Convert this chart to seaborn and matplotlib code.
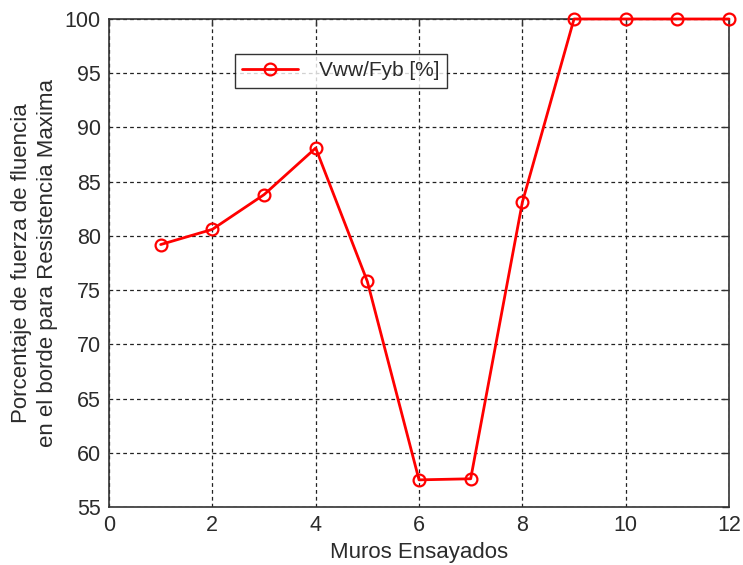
import matplotlib
matplotlib.use("Agg")
import matplotlib.pyplot as plt
import seaborn as sns
import pandas as pd

# Wall test results: share of edge yield force at maximum resistance
muros = [1, 2, 3, 4, 5, 6, 7, 8, 9, 10, 11, 12]
vww_fyb = [79.2, 80.6, 83.8, 88.1, 75.8, 57.5, 57.6, 83.1, 100, 100, 100, 100]
x_ticks = [0, 2, 4, 6, 8, 10, 12]
y_ticks = [55, 60, 65, 70, 75, 80, 85, 90, 95, 100]

sns.set_style("white")
plt.rcParams["font.family"] = ["Liberation Sans", "DejaVu Sans"]
text_color = "#2b2b2b"

df = pd.DataFrame({"muro": muros, "valor": vww_fyb})

fig = plt.figure(figsize=(7.43, 5.65), dpi=100)
ax = fig.add_axes([0.1467, 0.1027, 0.8345, 0.8637])

sns.lineplot(data=df, x="muro", y="valor", ax=ax, color="red", linewidth=2.0,
             marker="o", markersize=8.5, markerfacecolor="none",
             markeredgecolor="red", markeredgewidth=1.6,
             label="Vww/Fyb [%]", clip_on=False, zorder=5)

ax.set_xlim(0, 12)
ax.set_ylim(55, 100)
ax.set_xticks(x_ticks)
ax.set_yticks(y_ticks)
ax.grid(True, color="#222222", linestyle=(0, (3, 2.5)), linewidth=0.9)
ax.set_axisbelow(True)

for s in ax.spines.values():
    s.set_color("#333333")
    s.set_linewidth(1.2)
    s.set_visible(True)

ax.tick_params(axis="both", direction="in", length=5, width=1, colors="#333333",
               labelsize=15.5, labelcolor=text_color, top=True, right=True,
               pad=6)

ax.set_xlabel("Muros Ensayados", fontsize=16, color=text_color, labelpad=4)
ax.set_ylabel("Porcentaje de fuerza de fluencia\nen el borde para Resistencia Maxima",
              fontsize=16, color=text_color, labelpad=5, linespacing=1.3)

leg = ax.legend(loc="upper left", bbox_to_anchor=(0.203, 0.928), fontsize=15,
                frameon=True, fancybox=False, borderpad=0.35, handlelength=2.7,
                handletextpad=1.0, borderaxespad=0)
leg.get_frame().set_edgecolor("black")
leg.get_frame().set_linewidth(1.0)
for t in leg.get_texts():
    t.set_color(text_color)

fig.savefig("out.png", dpi=100, facecolor="white")
